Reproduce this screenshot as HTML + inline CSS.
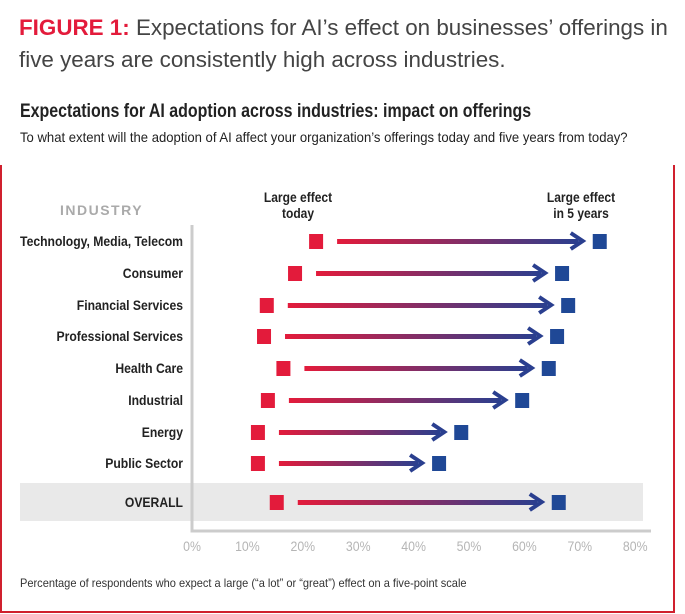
<!DOCTYPE html>
<html><head><meta charset="utf-8"><style>
body{margin:0;width:685px;height:614px;background:#fff;position:relative;overflow:hidden;font-family:"Liberation Sans",sans-serif}
.t{position:absolute;white-space:nowrap;transform-origin:0 0}
</style></head><body>
<div class="t" style="left:19px;top:12px;font-size:22.4px;line-height:32px;color:#444"><b style="color:#e31b3b">FIGURE 1:</b> Expectations for AI’s effect on businesses’ offerings in<br>five years are consistently high across industries.</div>
<div class="t" style="left:20px;top:101px;font-size:19px;font-weight:bold;color:#222;transform:scaleX(0.84)">Expectations for AI adoption across industries: impact on offerings</div>
<div class="t" style="left:20px;top:129px;font-size:14px;color:#222;transform:scaleX(0.935)">To what extent will the adoption of AI affect your organization’s offerings today and five years from today?</div>
<div style="position:absolute;left:0;top:165px;width:671px;height:446px;border:2px solid #d0202e;border-top:none"></div>
<svg id="c" width="685" height="614" style="position:absolute;left:0;top:0"></svg>
<div class="t" style="left:20px;top:576px;font-size:12px;color:#333;transform:scaleX(0.92)">Percentage of respondents who expect a large (“a lot” or “great”) effect on a five-point scale</div>
<script>
const categories=["Technology, Media, Telecom","Consumer","Financial Services","Professional Services","Health Care","Industrial","Energy","Public Sector","OVERALL"];
const today=[22.4,18.6,13.5,13.0,16.5,13.7,11.9,11.9,15.3];
const fiveYears=[73.6,66.8,67.9,65.9,64.4,59.6,48.6,44.6,66.2];
const ticks=[0,10,20,30,40,50,60,70,80];
const rowY=[241,273,305,336,368,400,432,463,502];
const svg=document.getElementById('c');const NS='http://www.w3.org/2000/svg';
const x=v=>192+v*5.54;
function mk(t,a,p){const e=document.createElementNS(NS,t);for(const k in a)e.setAttribute(k,a[k]);(p||svg).appendChild(e);return e;}
const defs=mk('defs',{});
const g=mk('linearGradient',{id:'gr',x1:0,x2:1,y1:0,y2:0},defs);
mk('stop',{offset:0,'stop-color':'#e31b3b'},g);mk('stop',{offset:1,'stop-color':'#2a3f8f'},g);
const band=mk('rect',{x:20,y:483,width:623,height:38,fill:'#e9e9e9'});

const ax=mk('path',{d:'M192,225V531H651',fill:'none',stroke:'#ccc','stroke-width':3});

ticks.forEach(t=>{const e=mk('text',{x:0,y:0,transform:`translate(${x(t)},551) scale(0.88,1)`,'text-anchor':'middle','font-size':14,fill:'#b5b5b5'});e.textContent=t+'%';
});
const h=mk('text',{x:60,y:215,'font-size':14,'font-weight':'bold',fill:'#aaa','letter-spacing':'1.5'});h.textContent='INDUSTRY';

[['Large effect','today',298],['Large effect','in 5 years',581]].forEach((l,i)=>{const e=mk('text',{x:0,y:0,transform:`translate(${l[2]},202) scale(0.86,1)`,'text-anchor':'middle','font-size':14,'font-weight':'bold',fill:'#222'});
e.innerHTML='<tspan x="0">'+l[0]+'</tspan><tspan x="0" dy="16">'+l[1]+'</tspan>';
});
categories.forEach((c,i)=>{const y=rowY[i];
const lb=mk('text',{x:0,y:0,transform:`translate(183,${y+5}) scale(0.87,1)`,'text-anchor':'end','font-size':14,'font-weight':'bold',fill:'#222'});lb.textContent=c;

const x1=x(today[i]),x2=x(fiveYears[i]);
const s1=mk('rect',{x:x1-7,y:y-7,width:14,height:15,fill:'#e31b3b'});

const s2=mk('rect',{x:x2-7,y:y-7,width:14,height:15,fill:'#1f4896'});

const a=x1+21,b=x2-17;
const ln=mk('rect',{x:a,y:y-2,width:b-a-4,height:5,fill:'url(#gr)'});

const hd=mk('path',{d:`M${b-12},${y-8}L${b},${y}L${b-12},${y+8}`,fill:'none',stroke:'#2a3f8f','stroke-width':4});

});
</script>
</body></html>
